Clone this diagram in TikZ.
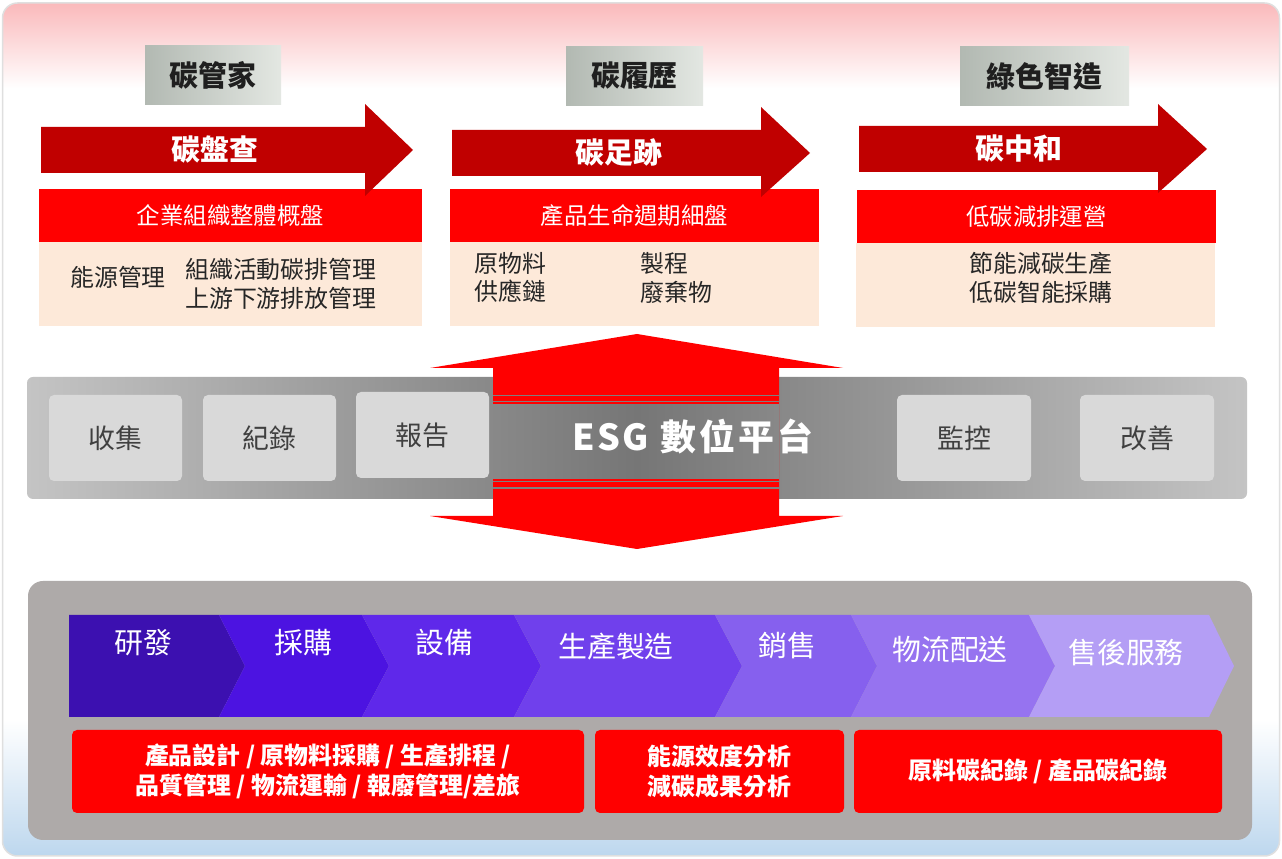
\documentclass[tikz,border=0pt]{standalone}
\usepackage{fontspec}
\setmainfont{Noto Sans CJK TC}
\definecolor{arrowred}{HTML}{C00000}
\definecolor{barred}{HTML}{FF0000}
\definecolor{peach}{HTML}{FDE9D9}
\definecolor{framepink}{HTML}{FAB9BB}
\definecolor{frameblue}{HTML}{BDD7EE}
\definecolor{tagdark}{HTML}{B2B9B2}
\definecolor{taglight}{HTML}{E3E7E2}
\definecolor{bandlight}{HTML}{C4C4C4}
\definecolor{banddark}{HTML}{767676}
\definecolor{keyfill}{HTML}{D9D9D9}
\definecolor{keytext}{HTML}{404040}
\definecolor{stripegray}{HTML}{7F7F7F}
\definecolor{panelgray}{HTML}{AEAAA9}
\definecolor{stepA}{HTML}{3C10B0}
\definecolor{stepB}{HTML}{4C13E1}
\definecolor{stepC}{HTML}{5F28EA}
\definecolor{stepD}{HTML}{7040EC}
\definecolor{stepE}{HTML}{8660EE}
\definecolor{stepF}{HTML}{9673F0}
\definecolor{stepG}{HTML}{B49EF5}
\pgfdeclareverticalshading{framefade}{100bp}{color(0bp)=(frameblue); color(25bp)=(frameblue); color(33bp)=(white); color(70bp)=(white); color(75bp)=(framepink); color(100bp)=(framepink)}
\begin{document}
\begin{tikzpicture}[line join=bevel,
    tag/.style={rectangle,left color=tagdark,right color=taglight,text=black!88,font=\fontsize{29}{32}\selectfont\bfseries,minimum height=59bp},
    arrowtitle/.style={inner sep=0pt,text=white,font=\fontsize{29}{32}\selectfont\bfseries},
    bar/.style={rectangle,fill=barred,text=white,font=\fontsize{23.5}{29}\selectfont,minimum height=53bp},
    note/.style={rectangle,fill=peach,minimum height=84bp},
    notetext/.style={inner sep=0pt,align=left,text=black!85,font=\fontsize{24}{29}\selectfont},
    key/.style={rectangle,rounded corners=5bp,fill=keyfill,text=keytext,font=\fontsize{27}{30}\selectfont,minimum width=133bp,minimum height=86bp},
    steptext/.style={inner sep=0pt,text=white,font=\fontsize{29}{32}\selectfont},
    redbox/.style={rectangle,rounded corners=5bp,fill=barred,text=white,align=center,font=\fontsize{24}{30}\selectfont\bfseries,minimum height=83bp},
    stripe/.style={draw=stripegray,line width=1.6bp},
    bandshade/.style={left color=bandlight,right color=bandlight,middle color=banddark},
    ]
    %%
    \useasboundingbox (0bp,0bp) rectangle (1282bp,859bp);
    \node (frame) at (641bp,429.5bp) [rectangle,rounded corners=15bp,minimum width=1277bp,minimum height=853bp,shade,shading=framefade,draw=gray!25,line width=1.5bp] {};
    % top row
    \node (tagA) at (213bp,783.5bp) [tag,minimum width=136bp] {碳管家};
    \node (tagB) at (634.5bp,783bp) [tag,minimum width=137bp] {碳履歷};
    \node (tagC) at (1044.5bp,782.5bp) [tag,minimum width=169bp] {綠色智造};
    \node (barA) at (230.5bp,643.5bp) [bar,minimum width=383bp] {企業組織整體概盤};
    \node (barB) at (634.5bp,643.5bp) [bar,minimum width=369bp] {產品生命週期細盤};
    \node (barC) at (1036.5bp,642.5bp) [bar,minimum width=359bp] {低碳減排運營};
    \node (noteA) at (230.5bp,575bp) [note,minimum width=383bp] {};
    \node (noteB) at (634.5bp,575bp) [note,minimum width=369bp] {};
    \node (noteC) at (1035.5bp,574bp) [note,minimum width=359bp] {};
    \fill [arrowred] (41bp,732bp) -- (365bp,732bp) -- (365bp,755bp) -- (413bp,709bp) -- (365bp,663bp) -- (365bp,686bp) -- (41bp,686bp) -- cycle;
    \fill [arrowred] (452bp,729bp) -- (761bp,729bp) -- (761bp,752bp) -- (810bp,706bp) -- (761bp,662bp) -- (761bp,683bp) -- (452bp,683bp) -- cycle;
    \fill [arrowred] (859bp,733bp) -- (1158bp,733bp) -- (1158bp,755bp) -- (1207bp,710bp) -- (1158bp,666bp) -- (1158bp,687bp) -- (859bp,687bp) -- cycle;
    \node (titleA) at (215bp,709bp) [arrowtitle] {碳盤查};
    \node (titleB) at (619bp,707bp) [arrowtitle] {碳足跡};
    \node (titleC) at (1019bp,710bp) [arrowtitle] {碳中和};
    \node (energy) at (118bp,582bp) [notetext] {能源管理};
    \node (orgact) at (185bp,575.5bp) [notetext,anchor=west] {組織活動碳排管理\\上游下游排放管理};
    \node (material) at (474bp,581.5bp) [notetext,anchor=west] {原物料\\供應鏈};
    \node (process) at (640bp,581.5bp) [notetext,anchor=west] {製程\\廢棄物};
    \node (saving) at (1041bp,581.5bp) [notetext] {節能減碳生產\\低碳智能採購};
    % platform band
    \node (band) at (637bp,421bp) [rectangle,rounded corners=6bp,bandshade,minimum width=1220bp,minimum height=122bp] {};
    \node (collect) at (115.5bp,421bp) [key] {收集};
    \node (record) at (269.5bp,421bp) [key] {紀錄};
    \node (report) at (422.5bp,424bp) [key] {報告};
    \node (monitor) at (964bp,421bp) [key,minimum width=134bp] {監控};
    \node (improve) at (1147bp,421bp) [key,minimum width=134bp] {改善};
    \fill [barred] (637bp,525bp) -- (843bp,491bp) -- (779bp,491bp) -- (779bp,343bp) -- (843bp,343bp) -- (637bp,310bp) -- (430bp,343bp) -- (493bp,343bp) -- (493bp,491bp) -- (430bp,491bp) -- cycle;
    \begin{scope}
      \clip (493bp,380bp) rectangle (779bp,454bp);
      \shade [bandshade] (band.south west) rectangle (band.north east);
    \end{scope}
    \draw [stripe] (493bp,463.5bp) -- (779bp,463.5bp);
    \draw [stripe] (493bp,457.5bp) -- (779bp,457.5bp);
    \draw [stripe] (493bp,377.5bp) -- (779bp,377.5bp);
    \draw [stripe] (493bp,371bp) -- (779bp,371bp);
    \node (esg) at (693bp,422bp) [inner sep=0pt,text=white,font=\fontsize{36}{40}\selectfont\bfseries] {E\hspace{2bp}S\hspace{2bp}G\hspace{4bp} 數\hspace{3bp}位\hspace{3bp}平\hspace{3bp}台};
    % value chain
    \node (panel) at (640bp,148.5bp) [rectangle,rounded corners=15bp,fill=panelgray,minimum width=1224bp,minimum height=259bp] {};
    \fill [stepA] (69bp,244bp) -- (219bp,244bp) -- (245bp,193bp) -- (219bp,142bp) -- (69bp,142bp) -- cycle;
    \fill [stepB] (219bp,244bp) -- (362bp,244bp) -- (389bp,193bp) -- (362bp,142bp) -- (219bp,142bp) -- (245bp,193bp) -- cycle;
    \fill [stepC] (362bp,244bp) -- (514bp,244bp) -- (541bp,193bp) -- (514bp,142bp) -- (362bp,142bp) -- (389bp,193bp) -- cycle;
    \fill [stepD] (514bp,244bp) -- (715bp,244bp) -- (742bp,193bp) -- (715bp,142bp) -- (514bp,142bp) -- (541bp,193bp) -- cycle;
    \fill [stepE] (715bp,244bp) -- (851bp,244bp) -- (877bp,193bp) -- (851bp,142bp) -- (715bp,142bp) -- (742bp,193bp) -- cycle;
    \fill [stepF] (851bp,244bp) -- (1029bp,244bp) -- (1055bp,193bp) -- (1029bp,142bp) -- (851bp,142bp) -- (877bp,193bp) -- cycle;
    \fill [stepG] (1029bp,244bp) -- (1209bp,244bp) -- (1234bp,193bp) -- (1209bp,142bp) -- (1029bp,142bp) -- (1055bp,193bp) -- cycle;
    \node (rnd) at (143bp,216bp) [steptext] {研發};
    \node (purchase) at (303bp,216bp) [steptext] {採購};
    \node (equip) at (444bp,216bp) [steptext] {設備};
    \node (produce) at (616bp,212bp) [steptext] {生產製造};
    \node (sales) at (787bp,213bp) [steptext] {銷售};
    \node (logistic) at (950bp,209bp) [steptext] {物流配送};
    \node (service) at (1126bp,206bp) [steptext] {售後服務};
    \node (boxA) at (328bp,87.5bp) [redbox,minimum width=512bp] {產品設計 / 原物料採購 / 生產排程 /\\品質管理 / 物流運輸 / 報廢管理/差旅};
    \node (boxB) at (719.5bp,87.5bp) [redbox,minimum width=249bp] {能源效度分析\\減碳成果分析};
    \node (boxC) at (1038bp,87.5bp) [redbox,minimum width=368bp] {原料碳紀錄 / 產品碳紀錄};
    %
\end{tikzpicture}
\end{document}
